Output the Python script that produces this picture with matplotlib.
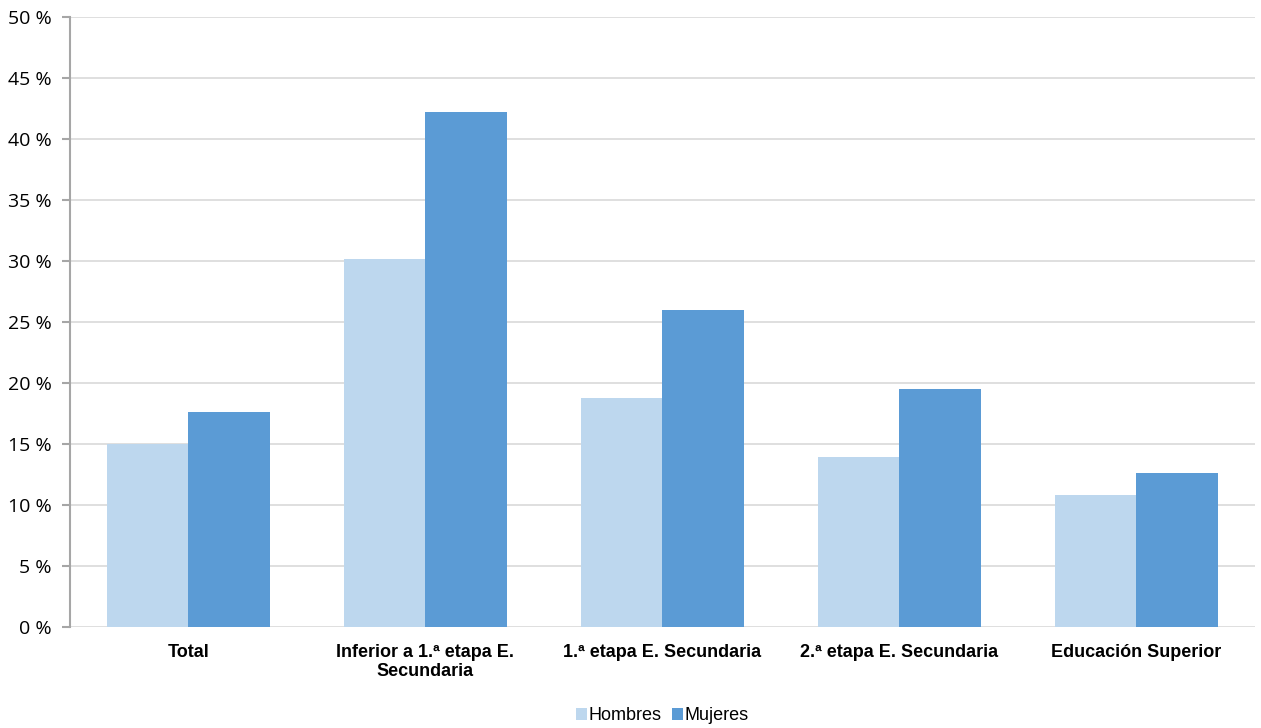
import matplotlib
matplotlib.use("Agg")
import matplotlib.pyplot as plt
import numpy as np
from matplotlib.ticker import FuncFormatter

categorias = ["Total", "Inferior a 1.ª etapa E.\nSecundaria", "1.ª etapa E. Secundaria",
              "2.ª etapa E. Secundaria", "Educación Superior"]
hombres = [15.0, 30.2, 18.8, 13.9, 10.8]
mujeres = [17.6, 42.2, 26.0, 19.5, 12.6]

fig = plt.figure(figsize=(12.61, 7.28), dpi=100)
ax = fig.add_axes([0.0555, 0.1387, 0.9397, 0.8379])

x = np.arange(len(categorias))
w = 0.345
ax.bar(x - w / 2, hombres, w, color="#BDD7EE", label="Hombres", zorder=3)
ax.bar(x + w / 2, mujeres, w, color="#5B9BD5", label="Mujeres", zorder=3)

ax.set_xlim(-0.5, len(categorias) - 0.5)
ax.set_ylim(0, 50)
ax.set_yticks(np.arange(0, 51, 5))
ax.yaxis.set_major_formatter(FuncFormatter(lambda v, p: "%d %%" % v))
ax.grid(axis="y", color="#D9D9D9", linewidth=1.2, zorder=0)

for s in ["top", "right", "bottom"]:
    ax.spines[s].set_visible(False)
ax.spines["left"].set_color("#A6A6A6")
ax.spines["left"].set_linewidth(1.5)
ax.tick_params(axis="y", length=6, width=1.5, color="#A6A6A6", labelsize=14, pad=7)
for t in ax.get_yticklabels():
    t.set_fontfamily("Open Sans")

ax.set_xticks(x)
ax.set_xticklabels(categorias, fontfamily="Liberation Sans", fontweight="bold", fontsize=13)
ax.tick_params(axis="x", length=0, pad=12)

leg = ax.legend(loc="upper center", bbox_to_anchor=(0.5, -0.105), ncol=2, frameon=False,
                prop={"family": "Liberation Sans", "size": 13},
                handlelength=0.6, handleheight=0.6, handletextpad=0.1, columnspacing=0.6)

fig.savefig("out.png", dpi=100)
